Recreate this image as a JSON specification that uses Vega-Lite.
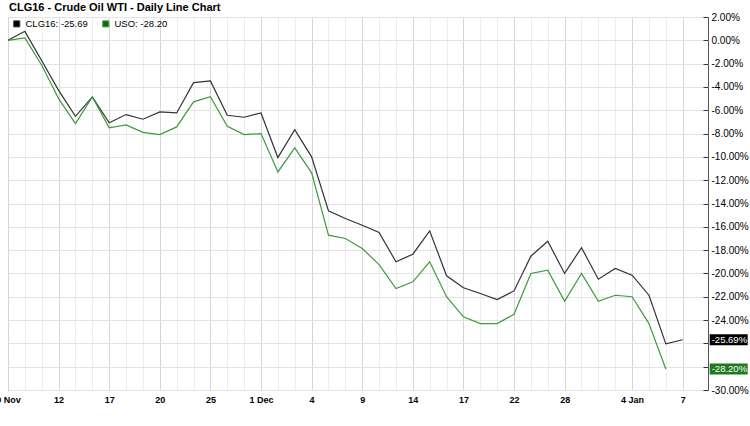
{
  "$schema": "https://vega.github.io/schema/vega-lite/v6.json",
  "autosize": "none",
  "width": 700,
  "height": 373,
  "padding": {"left": 8, "top": 17, "right": 42, "bottom": 36},
  "background": "#ffffff",
  "config": {
    "font": "Liberation Sans",
    "view": {"stroke": "#555555", "strokeWidth": 1}
  },
  "title": {
    "text": "CLG16 - Crude Oil WTI - Daily Line Chart",
    "anchor": "start",
    "frame": "group",
    "fontSize": 11,
    "fontWeight": "bold",
    "font": "Liberation Sans",
    "color": "#000000",
    "baseline": "alphabetic",
    "offset": -10,
    "dx": 1
  },
  "datasets": {
    "prices": [
      {"date": "2015-11-09", "CLG16": 0, "USO": 0},
      {"date": "2015-11-10", "CLG16": 0.77, "USO": 0.2},
      {"date": "2015-11-11", "CLG16": -1.75, "USO": -2.14},
      {"date": "2015-11-12", "CLG16": -4.29, "USO": -5.0},
      {"date": "2015-11-13", "CLG16": -6.52, "USO": -7.14},
      {"date": "2015-11-16", "CLG16": -4.86, "USO": -4.86},
      {"date": "2015-11-17", "CLG16": -7.08, "USO": -7.5},
      {"date": "2015-11-18", "CLG16": -6.37, "USO": -7.26},
      {"date": "2015-11-19", "CLG16": -6.77, "USO": -7.9},
      {"date": "2015-11-20", "CLG16": -6.14, "USO": -8.09},
      {"date": "2015-11-23", "CLG16": -6.23, "USO": -7.43},
      {"date": "2015-11-24", "CLG16": -3.63, "USO": -5.28},
      {"date": "2015-11-25", "CLG16": -3.48, "USO": -4.83},
      {"date": "2015-11-27", "CLG16": -6.43, "USO": -7.37},
      {"date": "2015-11-30", "CLG16": -6.6, "USO": -8.09},
      {"date": "2015-12-01", "CLG16": -6.23, "USO": -8.0},
      {"date": "2015-12-02", "CLG16": -10.06, "USO": -11.29},
      {"date": "2015-12-03", "CLG16": -7.66, "USO": -9.23},
      {"date": "2015-12-04", "CLG16": -10.0, "USO": -11.37},
      {"date": "2015-12-07", "CLG16": -14.63, "USO": -16.72},
      {"date": "2015-12-08", "CLG16": -15.29, "USO": -17.0},
      {"date": "2015-12-09", "CLG16": -15.87, "USO": -17.86},
      {"date": "2015-12-10", "CLG16": -16.49, "USO": -19.24},
      {"date": "2015-12-11", "CLG16": -19.0, "USO": -21.29},
      {"date": "2015-12-14", "CLG16": -18.35, "USO": -20.72},
      {"date": "2015-12-15", "CLG16": -16.35, "USO": -19.0},
      {"date": "2015-12-16", "CLG16": -20.2, "USO": -22.0},
      {"date": "2015-12-17", "CLG16": -21.23, "USO": -23.72},
      {"date": "2015-12-18", "CLG16": -21.72, "USO": -24.3},
      {"date": "2015-12-21", "CLG16": -22.24, "USO": -24.3},
      {"date": "2015-12-22", "CLG16": -21.5, "USO": -23.5},
      {"date": "2015-12-23", "CLG16": -18.52, "USO": -20.0},
      {"date": "2015-12-24", "CLG16": -17.24, "USO": -19.72},
      {"date": "2015-12-28", "CLG16": -20.0, "USO": -22.39},
      {"date": "2015-12-29", "CLG16": -17.79, "USO": -20.0},
      {"date": "2015-12-30", "CLG16": -20.5, "USO": -22.39},
      {"date": "2015-12-31", "CLG16": -19.58, "USO": -21.87},
      {"date": "2016-01-04", "CLG16": -20.15, "USO": -22.0},
      {"date": "2016-01-05", "CLG16": -21.87, "USO": -24.3},
      {"date": "2016-01-06", "CLG16": -26.04, "USO": -28.2},
      {"date": "2016-01-07", "CLG16": -25.69}
    ],
    "lastValues": [
      {"date": "2016-01-07", "series": "CLG16", "value": -25.69, "label": "-25.69%"},
      {"date": "2016-01-07", "series": "USO", "value": -28.2, "label": "-28.20%"}
    ]
  },
  "encoding": {
    "x": {
      "field": "date",
      "type": "ordinal",
      "scale": {"type": "point", "padding": 0.75, "align": 0},
      "axis": {
        "orient": "bottom",
        "title": null,
        "domain": false,
        "ticks": false,
        "labelPadding": 5,
        "labelOverlap": false,
        "labelAngle": 0,
        "labelFont": "Liberation Sans",
        "labelFontSize": 9,
        "labelFontWeight": "bold",
        "labelColor": "#000000",
        "grid": true,
        "gridColor": {
          "condition": {
            "test": "indexof(['2015-11-09','2015-11-12','2015-11-17','2015-11-20','2015-11-25','2015-12-01','2015-12-04','2015-12-09','2015-12-14','2015-12-17','2015-12-22','2015-12-28','2016-01-04','2016-01-07'], datum.value) >= 0",
            "value": "#d6d6d6"
          },
          "value": "#ececec"
        },
        "labelExpr": "datum.value == '2015-11-09' ? '9 Nov' : datum.value == '2015-12-01' ? '1 Dec' : datum.value == '2016-01-04' ? '4 Jan' : indexof(['2015-11-12','2015-11-17','2015-11-20','2015-11-25','2015-12-04','2015-12-09','2015-12-14','2015-12-17','2015-12-22','2015-12-28','2016-01-07'], datum.value) >= 0 ? '' + toNumber(slice(datum.value, 8)) : ''"
      }
    },
    "y": {
      "field": "value",
      "type": "quantitative",
      "scale": {"domain": [-30, 2], "nice": false, "zero": false},
      "axis": {
        "orient": "right",
        "title": null,
        "domain": false,
        "values": [2, 0, -2, -4, -6, -8, -10, -12, -14, -16, -18, -20, -22, -24, -26, -28, -30],
        "tickSize": -5,
        "tickColor": "#333333",
        "labelPadding": 8,
        "labelFont": "Liberation Sans",
        "labelFontSize": 10,
        "labelColor": "#000000",
        "gridColor": "#e3e3e3",
        "labelExpr": "(datum.value == -26 || datum.value == -28) ? '' : replace(format(datum.value, '.2f'), '\u2212', '-') + '%'"
      }
    }
  },
  "layer": [
    {
      "data": {"values": [{}]},
      "mark": {"type": "rect", "fill": "#d9d9ff", "opacity": 0.75},
      "encoding": {
        "x": null,
        "y": {"datum": 2, "type": "quantitative"},
        "y2": {"datum": 0.94}
      }
    },
    {
      "data": {"name": "prices"},
      "transform": [{"fold": ["CLG16", "USO"], "as": ["series", "value"]}],
      "mark": {"type": "line", "strokeWidth": 1.2},
      "encoding": {
        "color": {
          "field": "series",
          "type": "nominal",
          "scale": {"domain": ["CLG16", "USO"], "range": ["#333333", "#3d9a3d"]},
          "legend": {
            "orient": "none",
            "legendX": 4,
            "legendY": 2,
            "direction": "horizontal",
            "title": null,
            "padding": 0,
            "symbolType": "square",
            "symbolSize": 36,
            "symbolStrokeWidth": 1,
            "labelFont": "Liberation Sans",
            "labelFontSize": 9.5,
            "labelColor": "#000000",
            "labelOffset": 4,
            "columnPadding": 12,
            "labelExpr": "datum.label == 'CLG16' ? 'CLG16: -25.69' : 'USO: -28.20'",
            "encode": {
              "symbols": {
                "update": {
                  "fill": [{"test": "datum.value === 'USO'", "value": "#0d6b0d"}, {"value": "#000000"}],
                  "stroke": {"value": "#222222"},
                  "opacity": {"value": 1}
                }
              }
            }
          }
        }
      }
    },
    {
      "data": {"name": "lastValues"},
      "mark": {"type": "point", "filled": true, "opacity": 1, "size": 400, "shape": "M2.7,-0.55H6.5V0.55H2.7Z"},
      "encoding": {
        "color": {
          "condition": {"test": "datum.series == 'USO'", "value": "#1f7a1f"},
          "value": "#000000"
        }
      }
    },
    {
      "data": {"name": "lastValues"},
      "mark": {"type": "text", "align": "left", "baseline": "middle", "dx": 29, "fontSize": 9.5, "font": "Liberation Sans", "color": "#ffffff"},
      "encoding": {
        "text": {"field": "label"}
      }
    }
  ]
}
